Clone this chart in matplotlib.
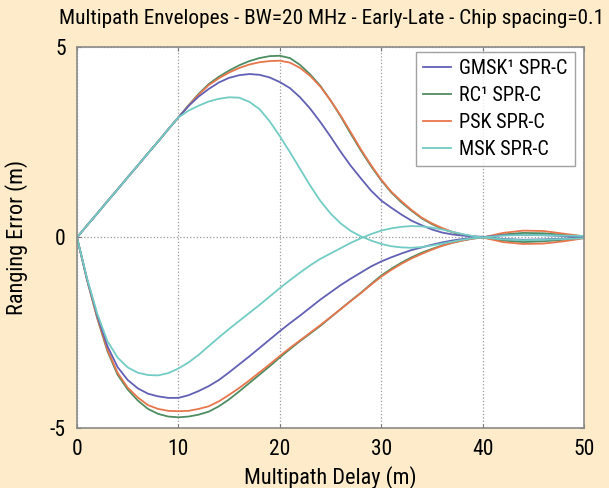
import matplotlib

matplotlib.use("Agg")
import matplotlib.pyplot as plt
from matplotlib import font_manager

# multipath delay (m)
delay = list(range(0, 41)) + [42, 44, 46, 48, 50]

# upper envelopes
gmsk_up = [0, 0.32, 0.63, 0.95, 1.26, 1.58, 1.89, 2.21, 2.52, 2.84, 3.15,
           3.45, 3.7, 3.9, 4.07, 4.19, 4.26, 4.29, 4.27, 4.2, 4.08,
           3.92, 3.68, 3.38, 3.03, 2.65, 2.25, 1.88, 1.55, 1.23, 0.97,
           0.78, 0.6, 0.44, 0.32, 0.21, 0.13, 0.08, 0.05, 0.03, 0.02,
           -0.04, -0.06, -0.05, -0.03, 0.02]
rc_up = [0, 0.32, 0.63, 0.95, 1.26, 1.58, 1.89, 2.21, 2.52, 2.84, 3.15,
         3.47, 3.77, 4.03, 4.22, 4.38, 4.52, 4.63, 4.71, 4.76, 4.77,
         4.71, 4.53, 4.28, 3.98, 3.6, 3.18, 2.72, 2.28, 1.87, 1.5,
         1.18, 0.92, 0.7, 0.5, 0.35, 0.23, 0.14, 0.07, 0.03, 0.0,
         -0.08, -0.12, -0.1, -0.06, -0.01]
psk_up = [0, 0.32, 0.63, 0.95, 1.26, 1.58, 1.89, 2.21, 2.52, 2.84, 3.15,
          3.46, 3.75, 4.0, 4.18, 4.33, 4.45, 4.54, 4.6, 4.63, 4.64,
          4.59, 4.45, 4.24, 3.96, 3.6, 3.2, 2.76, 2.31, 1.9, 1.52,
          1.2, 0.95, 0.72, 0.52, 0.37, 0.25, 0.15, 0.08, 0.03, 0.0,
          -0.12, -0.17, -0.16, -0.1, -0.02]
msk_up = [0, 0.32, 0.63, 0.95, 1.26, 1.58, 1.89, 2.21, 2.52, 2.84, 3.15,
          3.33, 3.46, 3.57, 3.64, 3.68, 3.67, 3.56, 3.37, 3.05, 2.66,
          2.24, 1.8, 1.36, 0.96, 0.63, 0.37, 0.17, 0.03, -0.08, -0.17,
          -0.23, -0.26, -0.27, -0.25, -0.21, -0.16, -0.11, -0.06, -0.02, 0.0,
          0.05, 0.07, 0.06, 0.05, 0.04]

# lower envelopes
gmsk_lo = [0, -1.1, -2.05, -2.85, -3.4, -3.74, -3.96, -4.1, -4.17, -4.21, -4.21,
           -4.14, -4.03, -3.9, -3.74, -3.54, -3.33, -3.12, -2.9, -2.68, -2.46,
           -2.25, -2.05, -1.84, -1.63, -1.44, -1.25, -1.08, -0.92, -0.76, -0.63,
           -0.52, -0.42, -0.33, -0.26, -0.19, -0.13, -0.08, -0.04, -0.01, 0.01,
           0.06, 0.07, 0.06, 0.04, 0.03]
rc_lo = [0, -1.12, -2.12, -2.98, -3.6, -3.99, -4.28, -4.5, -4.63, -4.7, -4.72,
         -4.7, -4.65, -4.57, -4.43, -4.25, -4.04, -3.82, -3.6, -3.38, -3.15,
         -2.93, -2.72, -2.52, -2.32, -2.1, -1.88, -1.66, -1.45, -1.22, -1.0,
         -0.82, -0.66, -0.52, -0.4, -0.3, -0.21, -0.14, -0.08, -0.03, 0.0,
         0.08, 0.12, 0.11, 0.07, 0.03]
psk_lo = [0, -1.12, -2.1, -2.95, -3.55, -3.94, -4.2, -4.4, -4.5, -4.55, -4.56,
          -4.55, -4.5, -4.43, -4.3, -4.13, -3.95, -3.75, -3.54, -3.33, -3.11,
          -2.9, -2.7, -2.5, -2.3, -2.09, -1.88, -1.67, -1.46, -1.24, -1.03,
          -0.85, -0.69, -0.55, -0.43, -0.32, -0.22, -0.14, -0.08, -0.03, 0.0,
          0.12, 0.18, 0.17, 0.1, 0.03]
msk_lo = [0, -1.08, -2.0, -2.72, -3.15, -3.41, -3.55, -3.61, -3.62, -3.56, -3.44,
          -3.28, -3.08, -2.85, -2.62, -2.4, -2.19, -1.98, -1.77, -1.55, -1.33,
          -1.12, -0.92, -0.73, -0.56, -0.42, -0.28, -0.14, -0.02, 0.09, 0.18,
          0.24, 0.28, 0.3, 0.29, 0.26, 0.21, 0.15, 0.09, 0.04, 0.0,
          -0.05, -0.07, -0.06, -0.04, -0.02]

labels = ["GMSK\u00b9 SPR-C", "RC\u00b9 SPR-C", "PSK SPR-C", "MSK SPR-C"]
colors = ["#6260b4", "#4e8c62", "#e8764c", "#72ccc4"]

# a narrow face if one exists, else the condensed DejaVu
installed = {f.name for f in font_manager.fontManager.ttflist}
narrow = [n for n in ("Liberation Sans Narrow", "Roboto Condensed", "Open Sans Condensed",
                      "DejaVu Sans Condensed") if n in installed]
if narrow:
    plt.rcParams["font.family"] = [narrow[0], "DejaVu Sans"]
    scale = 1.0
else:
    plt.rcParams["font.family"] = ["DejaVu Sans"]
    plt.rcParams["font.stretch"] = "condensed"
    scale = 0.85
plt.rcParams["axes.unicode_minus"] = False

fig = plt.figure(figsize=(6.09, 4.88), dpi=100, facecolor="#fdebc9")
ax = fig.add_axes([0.1264, 0.123, 0.8326, 0.7807])
ax.set_facecolor("white")

series = [(gmsk_up, gmsk_lo), (rc_up, rc_lo), (psk_up, psk_lo), (msk_up, msk_lo)]
# RC underneath, legend order kept
order = [1, 2, 0, 3]
handles = {}
for i in order:
    up, lo = series[i]
    ln, = ax.plot(delay, up, color=colors[i], linewidth=1.3, label=labels[i])
    ax.plot(delay, lo, color=colors[i], linewidth=1.3)
    handles[i] = ln

ax.set_xlim(0, 50)
ax.set_ylim(-5, 5)
ax.set_xticks([0, 10, 20, 30, 40, 50])
ax.set_yticks([-5, 0, 5])
ax.grid(True, color="#9a9a9a", linestyle=":", linewidth=0.9)
ax.tick_params(direction="in", top=True, right=True, length=3, color="#777777",
               labelsize=15.5 * scale, pad=8)
for s in ax.spines.values():
    s.set_color("#8a8a8a")
    s.set_linewidth(1.2)

ax.set_xlabel("Multipath Delay (m)", fontsize=16 * scale, labelpad=4)
ax.set_ylabel("Ranging Error (m)", fontsize=16 * scale, labelpad=16)
fig.text(0.545, 0.962, "Multipath Envelopes - BW=20 MHz - Early-Late - Chip spacing=0.1",
         ha="center", va="center", fontsize=15.3 * scale)

leg = ax.legend([handles[i] for i in range(4)], labels, loc="upper right",
                fontsize=14.5 * scale, frameon=True, fancybox=False, handlelength=1.4,
                handletextpad=0.4, borderpad=0.35, labelspacing=0.4,
                borderaxespad=0, bbox_to_anchor=(0.982, 0.988))
leg.get_frame().set_edgecolor("#8a8a8a")
leg.get_frame().set_linewidth(1.0)

fig.savefig("out.png", dpi=100, facecolor=fig.get_facecolor())
